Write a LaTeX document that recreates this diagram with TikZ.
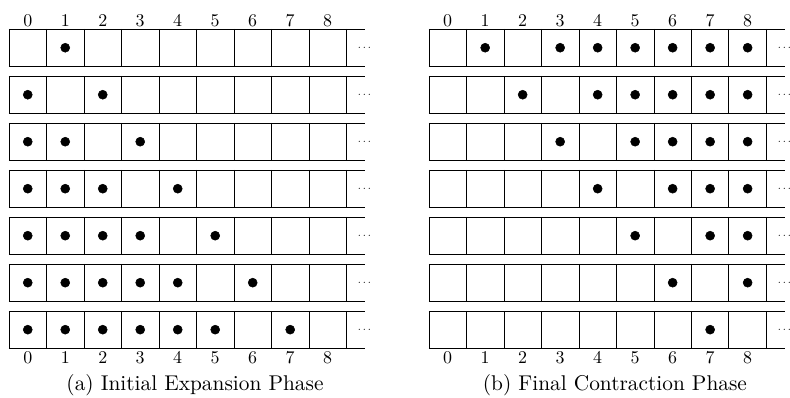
\documentclass[tikz,border=0pt]{standalone}
\usetikzlibrary{positioning}

\begin{document}
\begin{tikzpicture}
  [dot/.style={circle,draw=black,fill=black,inner sep=0pt,minimum size=2.4mm},
   cellline/.style={black,line width=0.6pt},
   idx/.style={font=\normalsize,scale=1.36,inner sep=0pt},
   more/.style={font=\footnotesize,inner sep=0pt},
   caption/.style={font=\normalsize,scale=1.62,inner sep=0pt}]
  \useasboundingbox (-0.24,0.773) rectangle (20.83,-9.84);

  % (a) left strips and (b) right strips
  \foreach \ox/\side in {0/a,11.2/b}{
    \foreach \r in {0,...,6}{
      \pgfmathsetmacro{\ty}{-\r*1.2533}
      \draw[cellline] (\ox,\ty) -- ++(9.5,0);
      \draw[cellline] (\ox,\ty-1) -- ++(9.5,0);
      \foreach \c in {0,...,9}
        \draw[cellline] (\ox+\c,\ty) -- ++(0,-1);
      \node[more] (more\side\r) at (\ox+9.48,\ty-0.5) {$\cdots$};
    }
    \foreach \c in {0,...,8}{
      \node[idx] (top\side\c) at (\ox+\c+0.5,0.22) {\c};
      \node[idx] (bot\side\c) at (\ox+\c+0.5,-8.76) {\c};
    }
  }

  % dots of (a)
  \foreach \r/\cells in {0/{1},1/{0,2},2/{0,1,3},3/{0,1,2,4},4/{0,1,2,3,5},5/{0,1,2,3,4,6},6/{0,1,2,3,4,5,7}}
    \foreach \c in \cells
      \node[dot] (a\r\c) at (\c+0.5,-\r*1.2533-0.5) {};

  % dots of (b)
  \foreach \r/\cells in {0/{1,3,4,5,6,7,8},1/{2,4,5,6,7,8},2/{3,5,6,7,8},3/{4,6,7,8},4/{5,7,8},5/{6,8},6/{7}}
    \foreach \c in \cells
      \node[dot] (b\r\c) at (11.2+\c+0.5,-\r*1.2533-0.5) {};

  \node[caption] (capa) at (4.96,-9.5) {(a)\ Initial Expansion Phase};
  \node[caption] (capb) at (16.16,-9.5) {(b)\ Final Contraction Phase};
\end{tikzpicture}
\end{document}
